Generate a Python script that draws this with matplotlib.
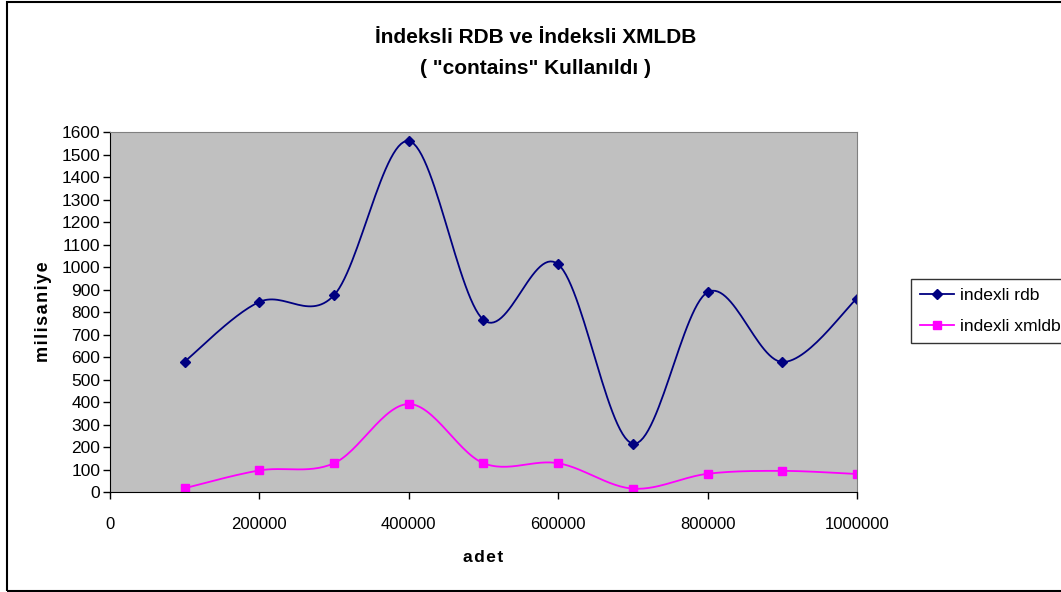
import matplotlib
matplotlib.use('Agg')
import matplotlib.pyplot as plt
import numpy as np
from matplotlib.patches import Rectangle

plt.rcParams['font.family'] = ['Liberation Sans', 'DejaVu Sans']

# measured timings (ms) per record count
adet = [100000, 200000, 300000, 400000, 500000, 600000, 700000, 800000, 900000, 1000000]
indexli_rdb = [580, 845, 875, 1560, 765, 1012, 215, 888, 578, 860]
indexli_xmldb = [17, 96, 128, 391, 128, 128, 15, 81, 94, 80]

series_names = ['indexli rdb', 'indexli xmldb']
y_ticks = list(range(0, 1601, 100))
x_ticks = [0, 200000, 400000, 600000, 800000, 1000000]

HAIR = '\u200a'


def smooth(x, y, n=30):
    # spreadsheet-style smoothed line: cubic bezier with catmull-rom tangents
    x = np.asarray(x, float)
    y = np.asarray(y, float)
    px = np.concatenate([[x[0]], x, [x[-1]]])
    py = np.concatenate([[y[0]], y, [y[-1]]])
    xs, ys = [], []
    t = np.linspace(0, 1, n)
    for i in range(1, len(px) - 2):
        p0 = np.array([px[i], py[i]])
        p3 = np.array([px[i + 1], py[i + 1]])
        p1 = p0 + (np.array([px[i + 1], py[i + 1]]) - np.array([px[i - 1], py[i - 1]])) / 6
        p2 = p3 - (np.array([px[i + 2], py[i + 2]]) - np.array([px[i], py[i]])) / 6
        b = ((1 - t) ** 3)[:, None] * p0 + (3 * (1 - t) ** 2 * t)[:, None] * p1 \
            + (3 * (1 - t) * t ** 2)[:, None] * p2 + (t ** 3)[:, None] * p3
        xs.extend(b[:, 0])
        ys.extend(b[:, 1])
    return np.array(xs), np.array(ys)


fig = plt.figure(figsize=(10.61, 5.92), dpi=100)
# chart border (right edge runs off the canvas)
fig.patches.append(Rectangle((0.0063, 0.0025), 1.05, 0.9945, transform=fig.transFigure,
                             fill=False, edgecolor='black', linewidth=1.5))

ax = fig.add_axes([0.1037, 0.1689, 0.7040, 0.6081])
ax.set_facecolor('#C0C0C0')

sx, sy = smooth(adet, indexli_rdb)
ax.plot(sx, sy, color='#000080', linewidth=1.3)
ax.plot(adet, indexli_rdb, linestyle='none', marker='D', markersize=5.5, color='#000080')
sx, sy = smooth(adet, indexli_xmldb)
ax.plot(sx, sy, color='#FF00FF', linewidth=1.3)
ax.plot(adet, indexli_xmldb, linestyle='none', marker='s', markersize=6, color='#FF00FF')

ax.set_xlim(0, 1000000)
ax.set_ylim(0, 1600)
ax.set_xticks(x_ticks)
ax.set_xticklabels([str(v) for v in x_ticks])
ax.set_yticks(y_ticks)
ax.set_yticklabels([str(v) for v in y_ticks])
ax.tick_params(axis='both', direction='out', length=5, width=1, colors='black')
ax.tick_params(axis='y', labelsize=12.5, pad=2)
ax.tick_params(axis='x', labelsize=12, pad=13)

for side in ['top', 'right']:
    ax.spines[side].set_color('#808080')
for side in ['left', 'bottom']:
    ax.spines[side].set_color('black')

ax.set_xlabel(HAIR.join('adet'), fontsize=12.5, fontweight='bold', labelpad=13)
ax.set_ylabel(HAIR.join('milisaniye'), fontsize=13, fontweight='bold', labelpad=7)

fig.text(0.505, 0.937, 'İndeksli RDB ve İndeksli XMLDB', ha='center', va='center',
         fontsize=15, fontweight='bold')
fig.text(0.505, 0.885, '( "contains" Kullanıldı )', ha='center', va='center',
         fontsize=15, fontweight='bold')

handles = [
    plt.Line2D([], [], color='#000080', marker='D', markersize=5.5, linewidth=1.3),
    plt.Line2D([], [], color='#FF00FF', marker='s', markersize=6, linewidth=1.3),
]
leg = fig.legend(handles, series_names, loc='upper left', bbox_to_anchor=(0.8584, 0.5287),
                 fontsize=12.6, frameon=True, fancybox=False, edgecolor='black',
                 handlelength=1.95, handletextpad=0.34, borderpad=0.5, labelspacing=0.9,
                 borderaxespad=0)
leg.get_frame().set_linewidth(1.0)

fig.savefig('out.png', dpi=100)
